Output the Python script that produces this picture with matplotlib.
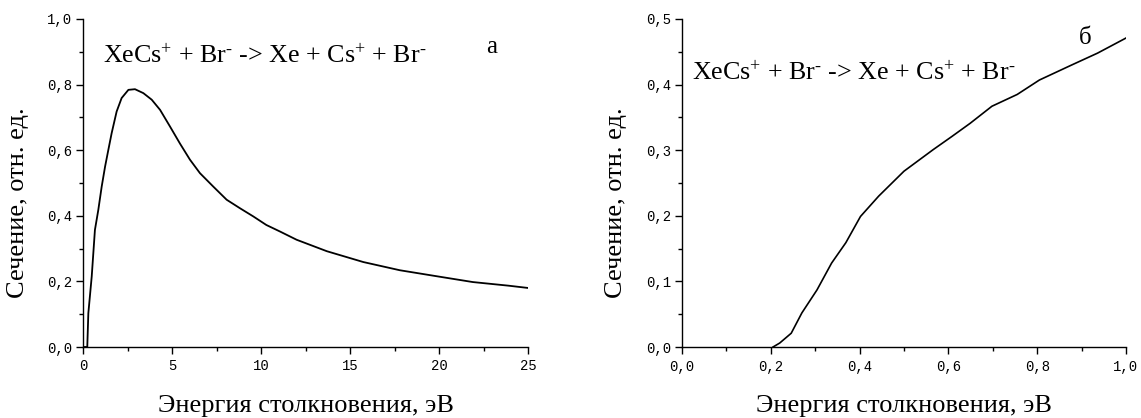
import matplotlib
matplotlib.use("Agg")
import matplotlib.pyplot as plt
from matplotlib.ticker import MultipleLocator, FuncFormatter

plt.rcParams['font.family'] = ['Liberation Serif', 'DejaVu Serif']
plt.rcParams['mathtext.fontset'] = 'custom'
plt.rcParams['mathtext.rm'] = 'Liberation Serif'
plt.rcParams['mathtext.it'] = 'Liberation Serif:italic'

# Panel a: collision energy (eV) vs cross-section (rel. units)
energy_a = [0.0, 0.24, 0.30, 0.49, 0.58, 0.67, 0.86, 1.05, 1.24, 1.42, 1.61, 1.89,
            2.17, 2.55, 2.92, 3.39, 3.86, 4.33, 4.89, 5.45, 6.01, 6.57, 7.32, 8.07,
            8.82, 9.57, 10.3, 11.07, 12.0, 13.7, 15.75, 17.8, 19.84, 21.9, 23.9, 25.0]
sigma_a = [0.0, 0.0, 0.103, 0.215, 0.286, 0.357, 0.418, 0.489, 0.55, 0.60, 0.652, 0.718,
           0.759, 0.784, 0.786, 0.774, 0.754, 0.723, 0.672, 0.62, 0.571, 0.53, 0.489, 0.449,
           0.423, 0.398, 0.372, 0.352, 0.327, 0.292, 0.259, 0.234, 0.216, 0.198, 0.187, 0.18]

# Panel б
energy_b = [0.205, 0.22, 0.246, 0.27, 0.304, 0.337, 0.369, 0.402, 0.443, 0.50,
            0.566, 0.608, 0.649, 0.698, 0.755, 0.805, 0.878, 0.936, 1.0]
sigma_b = [0.0, 0.006, 0.021, 0.052, 0.087, 0.128, 0.159, 0.199, 0.23, 0.268,
           0.301, 0.321, 0.341, 0.367, 0.385, 0.407, 0.43, 0.448, 0.471]

xlabel = 'Энергия столкновения, эВ'
ylabel = 'Сечение, отн. ед.'
reaction = r'XeCs$^{+}$ + Br$^{\text{-}}$ -> Xe + Cs$^{+}$ + Br$^{\text{-}}$'

W, H = 1141, 418
fig = plt.figure(figsize=(W / 100, H / 100), dpi=100)

def rect(x0, x1, y0, y1):
    return [x0 / W, 1 - y1 / H, (x1 - x0) / W, (y1 - y0) / H]

ax1 = fig.add_axes(rect(83, 528, 19, 347))
ax2 = fig.add_axes(rect(682, 1126, 19, 347))

comma = FuncFormatter(lambda v, p: ('%.1f' % v).replace('.', ','))
tickfont = 'Liberation Mono'

def style(ax, ylab_x):
    for s in ['top', 'right']:
        ax.spines[s].set_visible(False)
    for s in ['left', 'bottom']:
        ax.spines[s].set_linewidth(1.0)
    ax.tick_params(which='major', direction='out', length=5, width=1, labelsize=10)
    ax.tick_params(which='minor', direction='out', length=3, width=1)
    ax.tick_params(axis='x', pad=4)
    ax.tick_params(axis='y', pad=3)
    for lab in ax.get_xticklabels() + ax.get_yticklabels():
        lab.set_fontfamily(tickfont)
    ax.set_xlabel(xlabel, fontsize=19)
    ax.set_ylabel(ylabel, fontsize=19)
    bb = ax.get_position()
    x0 = bb.x0 * W
    w, h = bb.width * W, bb.height * H
    ax.xaxis.label.set_va('center')
    ax.yaxis.label.set_va('center')
    ax.xaxis.set_label_coords(0.5, -(406 - 347) / h)
    ax.yaxis.set_label_coords((ylab_x - x0) / w, (347 - 203) / h)

def fig_text(x, y, s, **kw):
    fig.text(x / W, 1 - y / H, s, **kw)

ax1.plot(energy_a, sigma_a, color='black', lw=1.3)
ax1.set_xlim(0, 25)
ax1.set_ylim(0, 1.0)
ax1.xaxis.set_major_locator(MultipleLocator(5))
ax1.xaxis.set_minor_locator(MultipleLocator(2.5))
ax1.yaxis.set_major_locator(MultipleLocator(0.2))
ax1.yaxis.set_minor_locator(MultipleLocator(0.1))
ax1.yaxis.set_major_formatter(comma)
style(ax1, 18)
fig_text(103, 56, reaction, fontsize=18.7, va='center', ha='left')
fig_text(492, 47, 'а', fontsize=18, va='center', ha='center')

ax2.plot(energy_b, sigma_b, color='black', lw=1.2)
ax2.set_xlim(0, 1.0)
ax2.set_ylim(0, 0.5)
ax2.xaxis.set_major_locator(MultipleLocator(0.2))
ax2.xaxis.set_minor_locator(MultipleLocator(0.1))
ax2.yaxis.set_major_locator(MultipleLocator(0.1))
ax2.yaxis.set_minor_locator(MultipleLocator(0.05))
ax2.xaxis.set_major_formatter(comma)
ax2.yaxis.set_major_formatter(comma)
style(ax2, 616)
fig_text(692, 73, reaction, fontsize=18.7, va='center', ha='left')
fig_text(1085, 38, 'б', fontsize=18, va='center', ha='center')

fig.savefig('out.png', dpi=100)
